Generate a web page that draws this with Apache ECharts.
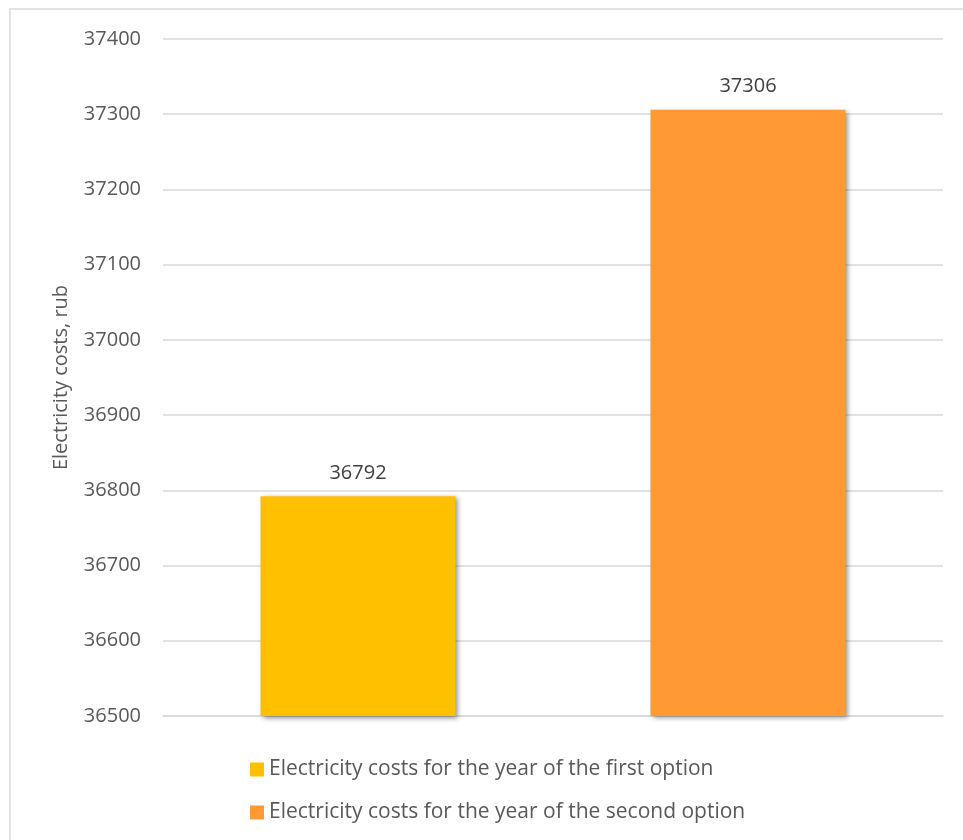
<!DOCTYPE html>
<html><head><meta charset="utf-8">
<script src="https://cdn.jsdelivr.net/npm/echarts@6/dist/echarts.min.js"></script>
<style>html,body{margin:0;padding:0;background:#fff}#c{width:963px;height:840px}</style>
</head><body><div id="c"></div>
<script>
const categories = ["first option", "second option"];
const seriesNames = ["Electricity costs for the year of the first option", "Electricity costs for the year of the second option"];
const values = [36792, 37306];
const colors = ["#FFC000", "#FF9933"];
const yAxisName = "Electricity costs, rub";
const yMin = 36500, yMax = 37400, yStep = 100;

const font = "Open Sans";
const chart = echarts.init(document.getElementById('c'));
const series = seriesNames.map((n, i) => ({
  name: n,
  type: 'bar',
  stack: 'a',
  barWidth: '50%',
  data: categories.map((c, j) => j === i ? values[i] : '-'),
  itemStyle: { color: colors[i], shadowBlur: 5, shadowOffsetX: 2, shadowOffsetY: 2, shadowColor: 'rgba(0,0,0,0.45)' },
  label: { show: true, position: 'top', distance: 13, color: '#404040', fontSize: 20, fontFamily: font }
}));
chart.setOption({
  animation: false,
  graphic: [{ type: 'rect', shape: { x: 10, y: 9, width: 1000, height: 900 }, style: { fill: 'none', stroke: '#d9d9d9', lineWidth: 1.5 } }],
  grid: { left: 163, right: 20, top: 39, bottom: 124 },
  xAxis: { type: 'category', data: categories, axisLine: { show: true, lineStyle: { color: '#d9d9d9', width: 1.5 } }, axisTick: { show: false }, axisLabel: { show: false } },
  yAxis: {
    type: 'value', min: yMin, max: yMax, interval: yStep,
    name: yAxisName, nameLocation: 'middle', nameGap: 92, nameRotate: 90,
    nameTextStyle: { color: '#595959', fontSize: 20, fontFamily: font },
    axisLine: { show: false }, axisTick: { show: false },
    axisLabel: { color: '#595959', fontSize: 20, fontFamily: font, margin: 22, formatter: v => String(v) },
    splitLine: { lineStyle: { color: '#d9d9d9', width: 1.5 } }
  },
  legend: {
    orient: 'vertical', left: 245, top: 754, itemGap: 22, itemWidth: 14, itemHeight: 14, icon: 'rect',
    textStyle: { color: '#595959', fontSize: 21, fontFamily: font }
  },
  series: series
});
</script></body></html>
